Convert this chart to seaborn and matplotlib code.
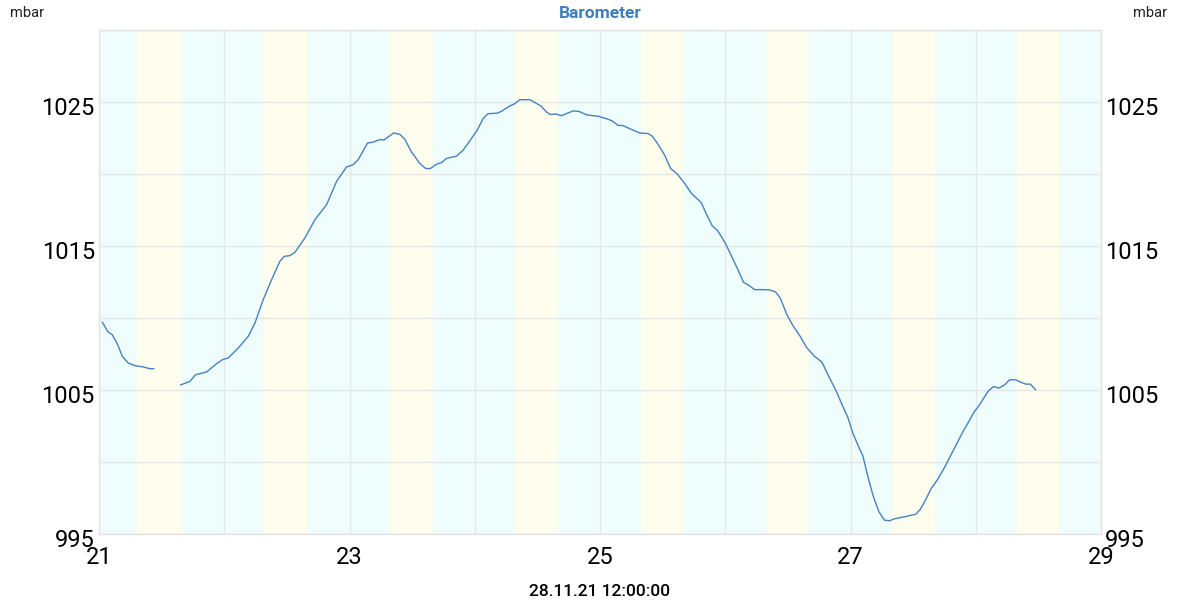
import numpy as np
import pandas as pd
import matplotlib
matplotlib.use("Agg")
import matplotlib.pyplot as plt
import matplotlib.transforms as mtransforms
import seaborn as sns

# ---------------- data ----------------
time_a = [21.026, 21.069, 21.106, 21.149, 21.186, 21.234, 21.287, 21.353, 21.406, 21.438]
pressure_a = [1009.72, 1009.07, 1008.84, 1008.15, 1007.34, 1006.87, 1006.69, 1006.60, 1006.48, 1006.48]

time_b = [21.651, 21.726, 21.771, 21.859, 21.939, 21.987, 22.032, 22.112, 22.192, 22.245,
          22.311, 22.378, 22.444, 22.479, 22.524, 22.564, 22.644, 22.724, 22.817, 22.897,
          22.977, 23.030, 23.070, 23.144, 23.190, 23.242, 23.277, 23.353, 23.401, 23.441,
          23.494, 23.561, 23.609, 23.646, 23.694, 23.734, 23.774, 23.854, 23.907, 23.973,
          24.019, 24.067, 24.106, 24.178, 24.213, 24.274, 24.319, 24.359, 24.439, 24.487,
          24.532, 24.572, 24.604, 24.647, 24.692, 24.745, 24.785, 24.830, 24.897, 24.984,
          25.051, 25.099, 25.144, 25.184, 25.237, 25.317, 25.384, 25.418, 25.463, 25.516,
          25.564, 25.618, 25.676, 25.730, 25.809, 25.850, 25.897, 25.935, 25.956, 26.000,
          26.050, 26.101, 26.146, 26.189, 26.234, 26.301, 26.354, 26.402, 26.439, 26.492,
          26.540, 26.599, 26.647, 26.713, 26.772, 26.820, 26.860, 26.891, 26.939, 26.979,
          27.019, 27.059, 27.099, 27.139, 27.179, 27.227, 27.272, 27.312, 27.352, 27.392,
          27.445, 27.485, 27.520, 27.557, 27.599, 27.645, 27.698, 27.751, 27.804, 27.850,
          27.898, 27.945, 27.983, 28.031, 28.063, 28.101, 28.143, 28.186, 28.231, 28.271,
          28.319, 28.364, 28.399, 28.436, 28.478]
pressure_b = [1005.35, 1005.60, 1006.06, 1006.25, 1006.83, 1007.11, 1007.22, 1007.92, 1008.73, 1009.65,
              1011.27, 1012.66, 1013.94, 1014.28, 1014.33, 1014.56, 1015.56, 1016.83, 1017.87, 1019.49,
              1020.49, 1020.65, 1021.00, 1022.15, 1022.22, 1022.39, 1022.37, 1022.85, 1022.76, 1022.42,
              1021.54, 1020.73, 1020.38, 1020.38, 1020.68, 1020.78, 1021.08, 1021.24, 1021.65, 1022.46,
              1023.04, 1023.85, 1024.19, 1024.22, 1024.35, 1024.70, 1024.88, 1025.16, 1025.16, 1024.93,
              1024.70, 1024.31, 1024.12, 1024.17, 1024.05, 1024.24, 1024.38, 1024.35, 1024.10, 1024.01,
              1023.85, 1023.68, 1023.38, 1023.36, 1023.15, 1022.85, 1022.81, 1022.62, 1022.07, 1021.31,
              1020.38, 1019.99, 1019.35, 1018.65, 1018.01, 1017.20, 1016.39, 1016.11, 1015.84, 1015.20,
              1014.30, 1013.36, 1012.48, 1012.27, 1011.97, 1011.97, 1011.95, 1011.81, 1011.39, 1010.23,
              1009.47, 1008.72, 1007.98, 1007.33, 1006.94, 1006.06, 1005.36, 1004.83, 1003.85, 1003.09,
              1002.00, 1001.18, 1000.42, 998.98, 997.70, 996.54, 995.96, 995.92, 996.06, 996.13,
              996.22, 996.31, 996.36, 996.71, 997.36, 998.17, 998.82, 999.63, 1000.53, 1001.30,
              1002.11, 1002.81, 1003.43, 1003.97, 1004.43, 1004.94, 1005.24, 1005.13, 1005.36, 1005.71,
              1005.71, 1005.52, 1005.41, 1005.41, 1005.01]

day_starts = [21, 22, 23, 24, 25, 26, 27, 28]
sunrise = [0.303, 0.309, 0.315, 0.321, 0.327, 0.325, 0.331, 0.329]
sunset = [0.663, 0.669, 0.667, 0.665, 0.663, 0.669, 0.675, 0.673]

x_ticks = [21, 22, 23, 24, 25, 26, 27, 28, 29]
x_labels = ["21", "", "23", "", "25", "", "27", "", "29"]
y_ticks = [995, 1000, 1005, 1010, 1015, 1020, 1025, 1030]
y_labels = ["995", "", "1005", "", "1015", "", "1025", ""]

title = "Barometer"
unit = "mbar"
x_caption = "28.11.21 12:00:00"

# ---------------- style ----------------
sns.set_theme(style="white")
plt.rcParams["font.family"] = ["Roboto", "DejaVu Sans"]

night_col = np.array([239, 253, 253]) / 255
day_col = np.array([254, 253, 238]) / 255
line_col = "#4682c0"
grid_col = "#e6e6e6"

fig = plt.figure(figsize=(12, 6), dpi=100)
ax = fig.add_axes([99 / 1200, 66 / 600, 1002 / 1200, 504 / 600])
ax.set_facecolor(night_col)

# day / night bands with soft transitions
nsteps = 5
w = 0.006
for d, sr, ss in zip(day_starts, sunrise, sunset):
    a, b = d + sr, d + ss
    ax.axvspan(a, b, color=day_col, lw=0, zorder=0)
    for k in range(nsteps):
        f = (k + 0.5) / nsteps
        c1 = night_col * (1 - f) + day_col * f
        c1 = c1 + np.array([-0.01, 0.0, -0.01]) * (1 - abs(2 * f - 1))
        c1 = np.clip(c1, 0, 1)
        ax.axvspan(a - w * nsteps / 2 + k * w, a - w * nsteps / 2 + (k + 1) * w,
                   color=c1, lw=0, zorder=0.5)
        ax.axvspan(b + w * nsteps / 2 - (k + 1) * w, b + w * nsteps / 2 - k * w,
                   color=c1, lw=0, zorder=0.5)

df = pd.concat([
    pd.DataFrame({"t": time_a, "p": pressure_a, "seg": "a"}),
    pd.DataFrame({"t": time_b, "p": pressure_b, "seg": "b"}),
])
sns.lineplot(data=df, x="t", y="p", units="seg", estimator=None, color=line_col,
             lw=1.0, ax=ax, legend=False, zorder=3)

ax.set_xlim(21, 29)
ax.set_ylim(995, 1030)
ax.set_xticks(x_ticks)
ax.set_xticklabels(x_labels)
ax.set_yticks(y_ticks)
ax.set_yticklabels(y_labels)
ax.grid(True, color=grid_col, lw=1.0, zorder=1)
ax.set_axisbelow(True)
for s in ax.spines.values():
    s.set_color("#e3e3e3")
    s.set_linewidth(1.0)
ax.tick_params(axis="both", length=0, labelsize=17, colors="black")
ax.tick_params(axis="x", pad=9)
ax.tick_params(axis="y", pad=3, labelright=True, right=False)
ax.set_xlabel("")
ax.set_ylabel("")

offset = mtransforms.ScaledTranslation(0, -4 / 100, fig.dpi_scale_trans)
for t in ax.yaxis.get_major_ticks():
    t.label1.set_transform(t.label1.get_transform() + offset)
    t.label2.set_transform(t.label2.get_transform() + offset)

fig.text(0.5, 1 - 13 / 600, title, ha="center", va="center", fontsize=12.5,
         fontweight="bold", color="#3f7dbb")
fig.text(10 / 1200, 1 - 13 / 600, unit, ha="left", va="center", fontsize=10.5, color="#222222")
fig.text(1133 / 1200, 1 - 13 / 600, unit, ha="left", va="center", fontsize=10.5, color="#222222")
fig.text(0.5, 1 - 592 / 600, x_caption, ha="center", va="center", fontsize=12.5,
         fontweight="medium", color="black")

fig.savefig("out.png", dpi=100)
